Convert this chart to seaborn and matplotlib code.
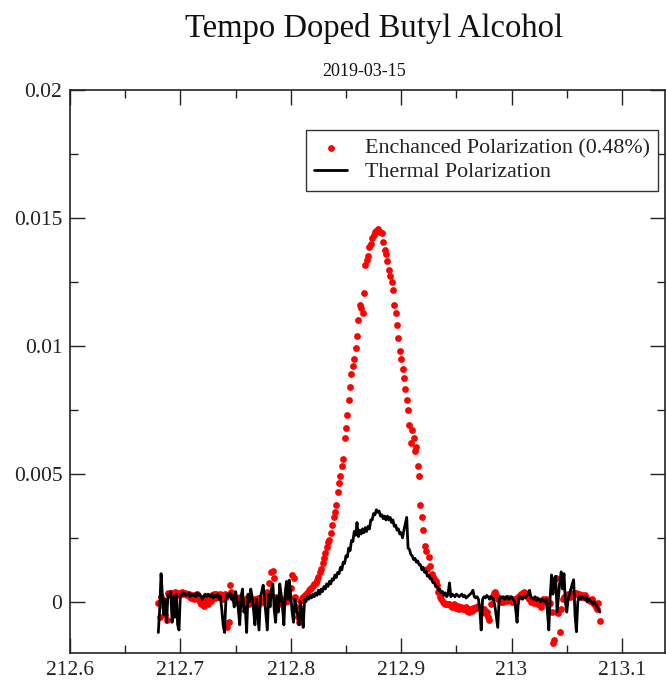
import matplotlib.pyplot as plt
import numpy as np
import pandas as pd
import seaborn as sns
from matplotlib.ticker import FuncFormatter, MultipleLocator

sns.set_theme(style="ticks")
plt.rcParams["font.family"] = ["Liberation Serif", "DejaVu Serif"]

# frequency sweep (MHz), evenly sampled between these two ends
freq_start = 212.68
freq_stop = 213.08

# signal values in units of 1e-3
enhanced = [
    -0.05, -0.6, 0.2, 0.1, -0.2, -0.5, -0.7, 0.35, 0.3, 0.25,
    0.35, 0.3, 0.4, 0.3, 0.35, 0.25, 0.3, 0.4, 0.3, 0.35,
    0.3, 0.25, 0.3, 0.2, 0.15, 0.25, 0.1, 0.2, 0.3, 0.1,
    0.0, -0.1, 0.05, -0.15, 0.1, 0.0, -0.1, 0.2, 0.05, 0.25,
    0.3, 0.15, 0.3, 0.2, 0.25, 0.3, 0.2, 0.1, 0.3, 0.2,
    -1.0, -0.8, 0.65, 0.4, 0.2, 0.1, 0.15, 0.0, 0.1, 0.2,
    0.0, 0.1, -0.1, 0.05, 0.15, 0.0, -0.1, 0.1, 0.05, -0.05,
    0.1, 0.0, 0.15, -0.1, 0.05, 0.1, 0.0, 0.15, 0.2, 0.4,
    0.74, 0.3, 1.15, 1.2, 0.95, 0.2, 0.1, 0.0, 0.15, -0.1,
    0.05, 0.1, 0.0, 0.1, 0.05, 0.2, 0.55, 1.05, 0.95, 0.2,
    -0.2, -0.6, -0.8, 0.05, 0.15, 0.2, 0.25, 0.27, 0.35, 0.47,
    0.5, 0.55, 0.6, 0.7, 0.75, 0.85, 0.98, 1.17, 1.3, 1.5,
    1.7, 1.9, 2.15, 2.34, 2.4, 2.7, 3.0, 3.3, 3.5, 3.8,
    4.3, 4.65, 4.9, 5.3, 5.6, 6.4, 6.8, 7.3, 7.9, 8.4,
    8.9, 9.2, 9.5, 9.9, 10.4, 11.0, 11.6, 11.5, 11.3, 12.05,
    13.15, 13.35, 13.5, 13.85, 14.0, 14.2, 14.35, 14.45, 14.5, 14.55,
    14.5, 14.45, 14.4, 14.05, 13.75, 13.6, 13.3, 12.95, 12.75, 12.5,
    12.2, 11.6, 11.3, 10.8, 10.3, 9.8, 9.5, 9.1, 8.75, 8.3,
    7.9, 7.5, 6.9, 6.2, 6.7, 6.4, 5.9, 6.05, 5.3, 4.9,
    3.8, 3.3, 2.8, 2.2, 2.0, 1.3, 1.75, 1.4, 1.1, 0.98,
    0.9, 0.8, 0.66, 0.4, 0.2, 0.1, 0.0, -0.05, -0.1, -0.1,
    -0.1, -0.1, -0.15, -0.2, -0.1, -0.2, -0.25, -0.15, -0.3, -0.2,
    -0.25, -0.3, -0.3, -0.2, -0.35, -0.4, -0.3, -0.35, -0.25, -0.3,
    -0.2, -0.25, -0.15, -0.2, -0.3, -0.35, -0.3, -0.45, -0.4, -0.6,
    -0.7, -0.1, 0.2, 0.35, 0.4, 0.25, 0.1, 0.15, 0.0, 0.05,
    0.0, 0.1, 0.15, 0.05, 0.15, 0.1, 0.0, 0.05, 0.1, 0.0,
    0.15, 0.2, 0.25, 0.3, 0.35, 0.4, 0.35, 0.3, 0.2, 0.1,
    0.0, 0.05, -0.05, 0.1, 0.0, -0.1, -0.1, -0.2, 0.05, 0.1,
    0.0, 0.1, 0.05, -0.1, -0.05, -0.4, -1.6, -1.5, 0.94, -0.4,
    -0.45, -1.17, -0.3, 0.1, 0.2, 0.15, 0.25, 0.3, 0.2, 0.25,
    0.3, 0.35, 0.3, 0.35, 0.25, 0.3, 0.2, 0.25, 0.2, 0.27,
    0.15, 0.1, 0.08, 0.05, 0.1, 0.0, -0.1, -0.2, -0.3, -0.05,
    -0.74,
]

thermal = [
    -1.2, -0.3, 1.1, 0.2, -0.5, 0.1, -0.8, 0.3, 0.2, 0.4,
    -0.8, 0.2, -0.6, 0.3, -0.9, -1.1, 0.3, 0.25, 0.35, 0.3,
    0.25, 0.3, 0.35, 0.2, 0.3, 0.25, 0.3, 0.2, 0.35, 0.25,
    0.3, 0.2, 0.1, 0.25, 0.3, 0.2, 0.3, 0.25, 0.2, 0.3,
    0.15, 0.25, 0.2, 0.3, 0.1, 0.2, -0.3, -0.9, -1.2, 0.1,
    0.3, 0.2, 0.35, 0.1, 0.25, -0.2, 0.4, 0.1, -0.3, -0.9,
    0.2, 0.5, -0.4, -0.2, -1.2, 0.3, 0.0, 0.5, 0.2, -0.3,
    -0.9, 0.1, -0.5, -1.1, 0.2, 0.4, 0.65, 0.1, -0.5, -1.1,
    0.3, -0.2, 0.5, 0.7, -0.3, -0.8, 0.2, -0.4, 0.7, 0.3,
    -0.2, -0.9, 0.4, 0.8, 0.1, 0.85, 0.2, -0.4, -0.8, 0.1,
    -0.3, -0.5, -0.9, 0.0, -0.4, -1.0, 0.1, 0.0, 0.2, 0.1,
    0.25, 0.15, 0.3, 0.2, 0.35, 0.25, 0.45, 0.3, 0.5, 0.4,
    0.6, 0.5, 0.7, 0.6, 0.8, 0.7, 0.9, 0.85, 1.05, 0.95,
    1.15, 1.1, 1.35, 1.25, 1.55, 1.5, 1.8, 1.75, 2.1, 2.0,
    2.4, 2.35, 2.75, 2.6, 3.1, 2.55, 2.8, 2.65, 2.85, 2.7,
    2.9, 2.75, 2.95, 2.85, 3.2, 3.2, 3.45, 3.4, 3.6, 3.5,
    3.55, 3.35, 3.4, 3.25, 3.35, 3.2, 3.35, 3.2, 3.3, 3.1,
    3.2, 2.95, 3.0, 2.8, 2.85, 2.65, 2.7, 2.5, 2.8, 3.05,
    3.3, 2.1, 2.05, 1.85, 1.8, 1.65, 1.7, 1.55, 1.6, 1.45,
    1.45, 1.25, 1.35, 1.15, 1.2, 1.0, 1.05, 0.9, 0.9, 0.75,
    0.75, 0.6, 0.6, 0.45, 0.5, 0.35, 0.4, 0.25, 0.35, 0.2,
    0.3, 0.74, 0.2, 0.3, 0.25, 0.2, 0.3, 0.25, 0.2, 0.25,
    0.3, 0.2, 0.25, 0.15, 0.2, 0.25, 0.3, 0.35, 0.45, 0.2,
    0.15, 0.2, 0.1, -0.3, -1.1, 0.1, 0.2, 0.15, 0.25, 0.2,
    0.1, 0.2, 0.15, 0.1, -0.2, -0.6, -1.0, 0.1, 0.2, 0.15,
    0.2, 0.1, 0.15, 0.2, 0.1, 0.15, 0.2, 0.1, 0.05, -0.3,
    -0.8, 0.1, 0.2, 0.15, 0.1, 0.2, 0.15, 0.25, 0.3, 0.45,
    0.2, 0.15, 0.1, 0.2, 0.05, 0.15, 0.1, 0.0, 0.1, 0.05,
    0.0, 0.1, -0.4, -1.1, 0.2, 1.05, 0.3, 0.9, 1.0, -0.4,
    0.2, 0.8, 1.17, 0.5, 1.1, 0.0, -0.4, 0.1, 0.3, 0.5,
    0.7, 0.86, -0.5, -1.17, 0.0, 0.2, 0.1, 0.2, 0.15, 0.1,
    0.2, 0.0, 0.1, 0.05, 0.0, -0.1, 0.0, -0.1, -0.2, -0.3,
    -0.4,
]

df_enh = pd.DataFrame({
    "freq": np.linspace(freq_start, freq_stop, len(enhanced)),
    "signal": np.array(enhanced) * 1e-3,
})
df_th = pd.DataFrame({
    "freq": np.linspace(freq_start, freq_stop, len(thermal)),
    "signal": np.array(thermal) * 1e-3,
})

fig = plt.figure(figsize=(6.66, 6.8), dpi=100)
ax = fig.add_axes([70 / 666, 27 / 680, 595 / 666, 563 / 680])

sns.scatterplot(data=df_enh, x="freq", y="signal", ax=ax, color="#ff0000",
                s=24, linewidth=0, label="Enchanced Polarization (0.48%)")
sns.lineplot(data=df_th, x="freq", y="signal", ax=ax, color="black",
             linewidth=2.0, sort=False, estimator=None,
             label="Thermal Polarization")

ax.set_xlim(212.6, 213.139)
ax.set_ylim(-0.002, 0.02)
ax.set_xlabel("")
ax.set_ylabel("")

ax.xaxis.set_major_locator(MultipleLocator(0.1))
ax.xaxis.set_minor_locator(MultipleLocator(0.05))
ax.yaxis.set_major_locator(MultipleLocator(0.005))
ax.yaxis.set_minor_locator(MultipleLocator(0.0025))
fmt = FuncFormatter(lambda v, pos: f"{v:g}" if abs(v) > 1e-12 else "0")
ax.xaxis.set_major_formatter(fmt)
ax.yaxis.set_major_formatter(fmt)

ax.tick_params(which="both", direction="in", top=True, right=True,
               width=1.0, color="#222222", labelsize=15.5, labelcolor="#222222")
ax.tick_params(which="major", length=11, pad=5.5)
ax.tick_params(which="minor", length=5.5)
for sp in ax.spines.values():
    sp.set_linewidth(1.2)
    sp.set_color("#222222")

leg = ax.legend(loc="upper right", bbox_to_anchor=(0.988, 0.929),
                borderaxespad=0, fancybox=False, framealpha=1,
                edgecolor="#333333", fontsize=15.8, handlelength=1.5,
                handletextpad=0.8, labelspacing=0.15, borderpad=0.38)
leg.get_frame().set_linewidth(1.0)
for t in leg.get_texts():
    t.set_color("#222222")

fig.text(374 / 666, 1 - 28 / 680, "Tempo Doped Butyl Alcohol",
         ha="center", va="center", fontsize=23.5, color="#111111")
fig.text(364 / 666, 1 - 72 / 680, "2019-03-15",
         ha="center", va="center", fontsize=13, color="#111111")

fig.savefig("out.png", dpi=100)
